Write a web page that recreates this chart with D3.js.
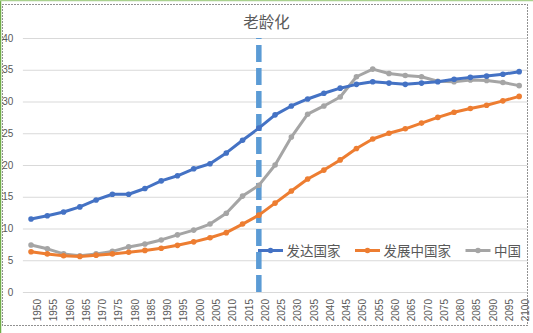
<!DOCTYPE html>
<html>
<head>
<meta charset="utf-8">
<script src="https://cdn.jsdelivr.net/npm/d3@7"></script>
<style>
  html, body { margin: 0; padding: 0; background: #fff; }
  svg { display: block; }
</style>
</head>
<body>
<svg id="chart" width="533" height="333"></svg>
<script>
// ---------------- data ----------------
const title = "老龄化";
const years = d3.range(1950, 2101, 5).map(String);
const seriesNames = ["发达国家", "发展中国家", "中国"];
const developed = [11.5, 12.0, 12.6, 13.4, 14.5, 15.4, 15.4, 16.3, 17.5, 18.3,
                   19.4, 20.2, 21.9, 23.9, 25.8, 27.9, 29.3, 30.4, 31.3, 32.1,
                   32.7, 33.1, 32.9, 32.7, 32.9, 33.1, 33.5, 33.8, 34.0, 34.3, 34.7];
const developing = [6.35, 6.0, 5.7, 5.6, 5.8, 6.0, 6.25, 6.55, 6.9, 7.35,
                    7.9, 8.55, 9.35, 10.7, 12.1, 14.0, 15.9, 17.8, 19.2, 20.8,
                    22.6, 24.1, 25.0, 25.7, 26.6, 27.5, 28.3, 28.9, 29.4, 30.1, 30.8];
const china = [7.4, 6.8, 6.0, 5.7, 6.0, 6.4, 7.1, 7.55, 8.2, 9.0,
               9.75, 10.7, 12.4, 15.1, 16.8, 20.0, 24.4, 28.0, 29.3, 30.7,
               33.9, 35.1, 34.4, 34.1, 33.9, 33.2, 33.1, 33.4, 33.3, 33.0, 32.5];
const yTicks = [0, 5, 10, 15, 20, 25, 30, 35, 40];
const markerYear = "2020";
const markerRange = [0, 40];
const colors = ["#4472C4", "#ED7D31", "#A5A5A5"];

// ---------------- layout ----------------
const svg = d3.select("#chart");
const W = 533, H = 333;
const plot = { left: 22.9, right: 527.3, top: 38, bottom: 292 };

const x = d3.scaleBand().domain(years).range([plot.left, plot.right]).padding(0);
const y = d3.scaleLinear().domain([0, 40]).range([plot.bottom, plot.top]);
const cx = d => x(d) + x.bandwidth() / 2;

// chart frame (selection-like border)
svg.append("rect").attr("x", 0).attr("y", 0).attr("width", W).attr("height", H).attr("fill", "#fff");
svg.append("rect").attr("x", 2.5).attr("y", 4.5).attr("width", 525).attr("height", 321)
  .attr("fill", "none").attr("stroke", "#222").attr("stroke-width", 1).attr("stroke-dasharray", "1,2");
svg.append("line").attr("x1", 0.5).attr("x2", 0.5).attr("y1", 0).attr("y2", H)
  .attr("stroke", "#70AD47").attr("stroke-width", 1.5);
svg.append("line").attr("x1", 0).attr("x2", W).attr("y1", 0.5).attr("y2", 0.5)
  .attr("stroke", "#A9D18E").attr("stroke-width", 1.5);

// title
svg.append("text").attr("x", W / 2).attr("y", 21)
  .attr("text-anchor", "middle").attr("dominant-baseline", "central")
  .attr("font-family", "'Noto Sans CJK SC', sans-serif").attr("font-size", 15.5)
  .attr("fill", "#595959").text(title);

// y axis with gridlines
const yAxis = d3.axisLeft(y).tickValues(yTicks).tickSize(-(plot.right - plot.left)).tickPadding(9.5);
const gy = svg.append("g").attr("transform", `translate(${plot.left},0)`).call(yAxis);
gy.select(".domain").remove();
gy.selectAll(".tick line").attr("stroke", "#D9D9D9").attr("stroke-width", 1);
gy.selectAll(".tick text").attr("fill", "#595959").attr("font-size", 10)
  .attr("font-family", "'Liberation Sans', Arial, sans-serif");

// x axis labels (rotated)
const xAxis = d3.axisBottom(x).tickSize(0).tickPadding(0);
const gx = svg.append("g").attr("transform", `translate(0,${plot.bottom})`).call(xAxis);
gx.select(".domain").remove();
gx.selectAll(".tick text")
  .attr("fill", "#595959").attr("font-size", 10)
  .attr("font-family", "'Liberation Sans', Arial, sans-serif")
  .attr("text-anchor", "end")
  .attr("y", 0).attr("dy", "0.35em")
  .attr("transform", "translate(6.5,7) rotate(-90)");

// dashed marker line
svg.append("line")
  .attr("x1", cx(markerYear)).attr("x2", cx(markerYear))
  .attr("y1", y(markerRange[0])).attr("y2", y(markerRange[1]))
  .attr("stroke", "#5B9BD5").attr("stroke-width", 5.5).attr("stroke-dasharray", "17,6");

// series
const allSeries = [developed, developing, china];
const line = d3.line().x((d, i) => cx(years[i])).y(d => y(d));
const order = [2, 1, 0];
order.forEach(k => {
  const g = svg.append("g");
  g.append("path").datum(allSeries[k]).attr("d", line)
    .attr("fill", "none").attr("stroke", colors[k]).attr("stroke-width", 3)
    .attr("stroke-linejoin", "round").attr("stroke-linecap", "round");
  g.selectAll("circle").data(allSeries[k]).join("circle")
    .attr("cx", (d, i) => cx(years[i])).attr("cy", d => y(d)).attr("r", 2.8)
    .attr("fill", colors[k]);
});

// legend
const legend = svg.append("g");
let lx = 258;
const ly = 250.5;
seriesNames.forEach((name, k) => {
  legend.append("line").attr("x1", lx).attr("x2", lx + 25).attr("y1", ly).attr("y2", ly)
    .attr("stroke", colors[k]).attr("stroke-width", 3);
  legend.append("circle").attr("cx", lx + 12.5).attr("cy", ly).attr("r", 2.8).attr("fill", colors[k]);
  const t = legend.append("text").attr("x", lx + 28.5).attr("y", ly - 0.5)
    .attr("dominant-baseline", "central")
    .attr("font-family", "'Noto Sans CJK SC', sans-serif").attr("font-size", 13.5)
    .attr("fill", "#595959").text(name);
  lx = lx + 28.5 + t.node().getComputedTextLength() + 14.5;
});
</script>
</body>
</html>
